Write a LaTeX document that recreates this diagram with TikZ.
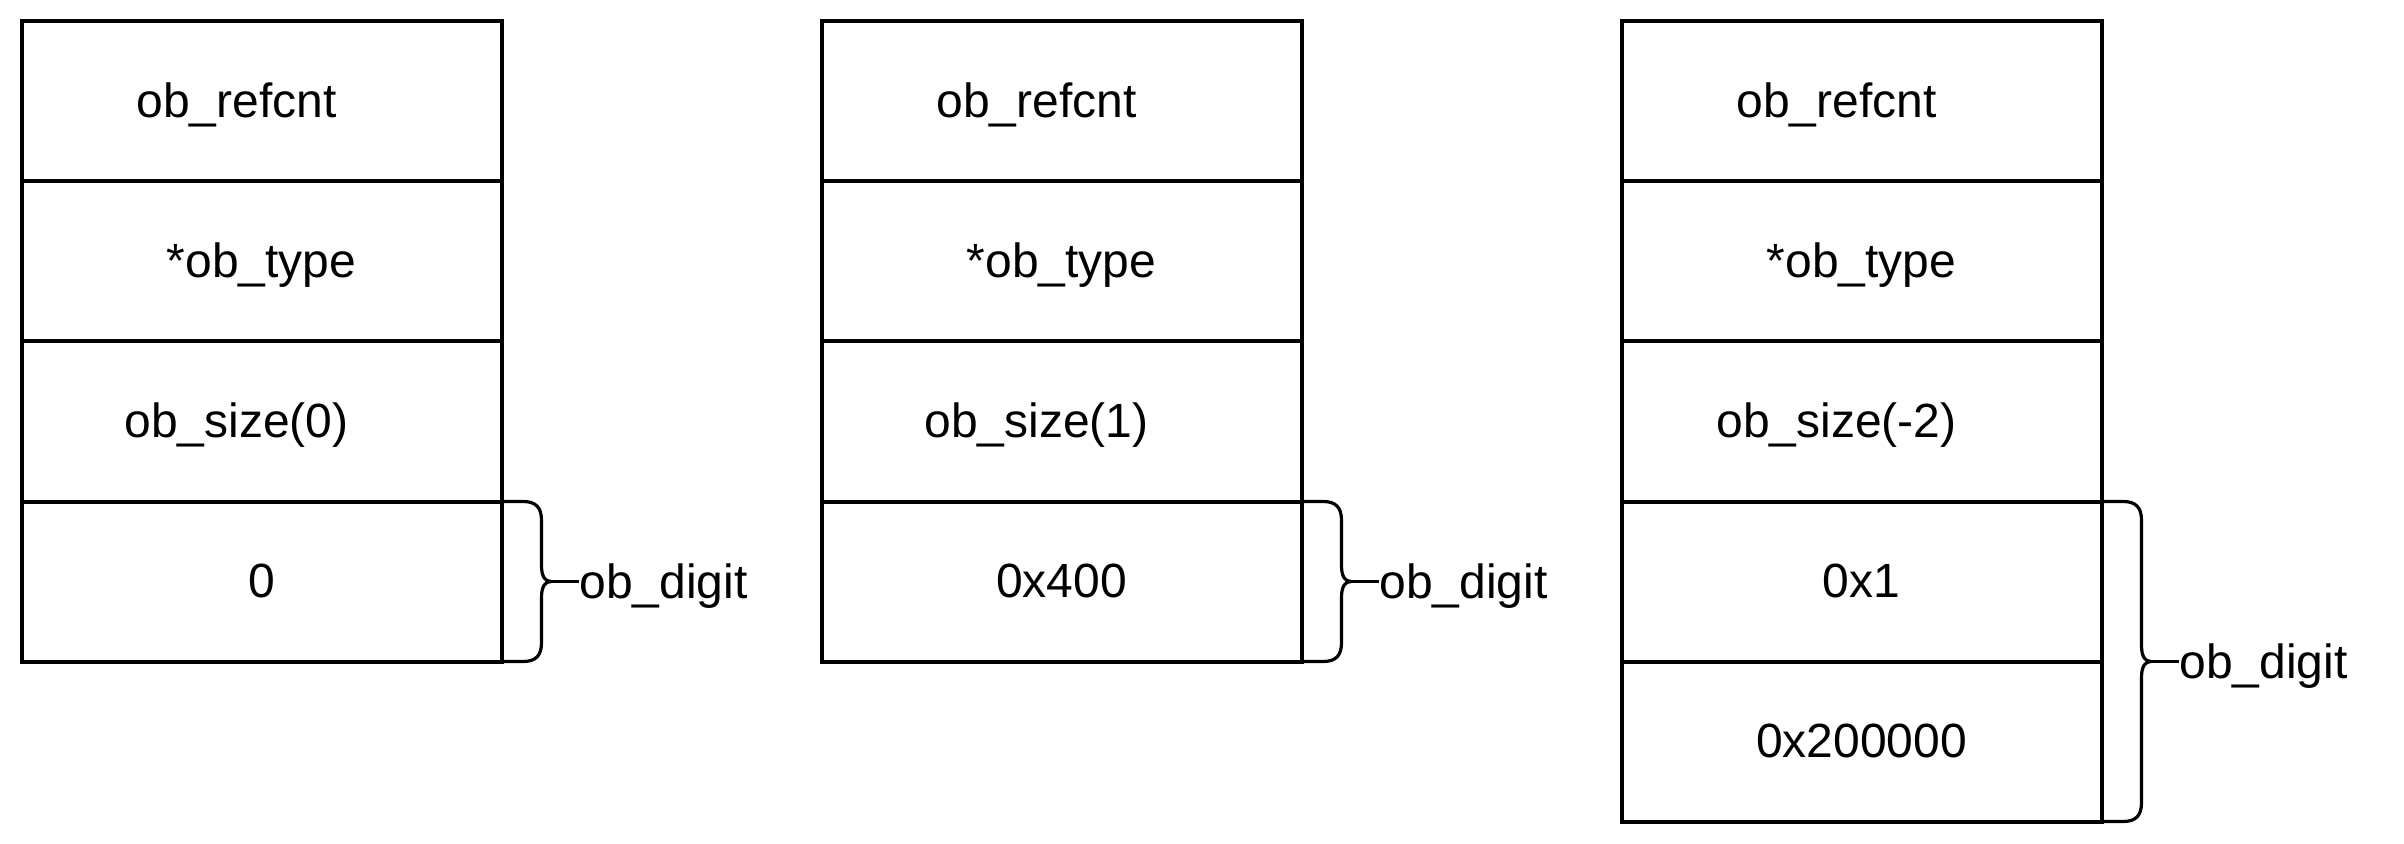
\documentclass[tikz,border=0pt]{standalone}
\usepackage{fontspec}
\setmainfont{Liberation Sans}
\usetikzlibrary{calc}
\newcommand{\drawobbrace}[4]{%
  \coordinate (tip#4) at ($(#3)+(49.5,0)$);
  \draw[bracestyle] (#1) -- ++(21.5,0) .. controls +(13,0) and +(0,-13) .. ++(18.5,19)
    -- ($(#3)+(40,-16)$) .. controls +(0,11) and +(-6,0) .. (tip#4)
    .. controls +(-6,0) and +(0,-11) .. ($(#3)+(40,16)$)
    -- ($(#2)+(40,-19)$) .. controls +(0,13) and +(13,0) .. ($(#2)+(21.5,0)$) -- (#2);
  \node[txt,anchor=base west] (lab#4) at ($(tip#4)+(28,16.5)$) {ob\_digit};
  \draw[bracestyle] (tip#4) -- (tip#4 -| lab#4.west);
}
\begin{document}
\begin{tikzpicture}[x=0.5pt,y=-0.5pt,
  cell/.style={draw,line width=2pt,minimum width=240pt,minimum height=80pt,inner sep=0pt,outer sep=0pt},
  txt/.style={anchor=base,inner sep=0pt,font=\fontsize{24}{28}\selectfont},
  bracestyle/.style={draw,line width=1.6pt,line join=round}]
\useasboundingbox (0,0) rectangle (2404,844);

\foreach \b/\x in {1/261.5,2/1061.5,3/1861.5}{
  \foreach \r/\y in {1/101.5,2/261.5,3/421.5,4/581.5}{
    \node[cell] (c\b\r) at (\x,\y) {};
  }
}
\node[cell] (c35) at (1861.5,741.5) {};

% box 1
\node[txt] (t11) at ($(c11.center)+(-25,16)$) {ob\_refcnt};
\node[txt] (t12) at ($(c12.center)+(0,16)$) {*ob\_type};
\node[txt] (t13) at ($(c13.center)+(-25,16)$) {ob\_size(0)};
\node[txt] (t14) at ($(c14.center)+(0,16)$) {0};
% box 2
\node[txt] (t21) at ($(c21.center)+(-25,16)$) {ob\_refcnt};
\node[txt] (t22) at ($(c22.center)+(0,16)$) {*ob\_type};
\node[txt] (t23) at ($(c23.center)+(-25,16)$) {ob\_size(1)};
\node[txt] (t24) at ($(c24.center)+(0,16)$) {0x400};
% box 3
\node[txt] (t31) at ($(c31.center)+(-25,16)$) {ob\_refcnt};
\node[txt] (t32) at ($(c32.center)+(0,16)$) {*ob\_type};
\node[txt] (t33) at ($(c33.center)+(-25,16)$) {ob\_size(-2)};
\node[txt] (t34) at ($(c34.center)+(0,16)$) {0x1};
\node[txt] (t35) at ($(c35.center)+(0,16)$) {0x200000};

\drawobbrace{c14.north east}{c14.south east}{c14.east}{1}
\drawobbrace{c24.north east}{c24.south east}{c24.east}{2}
\drawobbrace{c34.north east}{c35.south east}{c34.south east}{3}
\end{tikzpicture}
\end{document}
